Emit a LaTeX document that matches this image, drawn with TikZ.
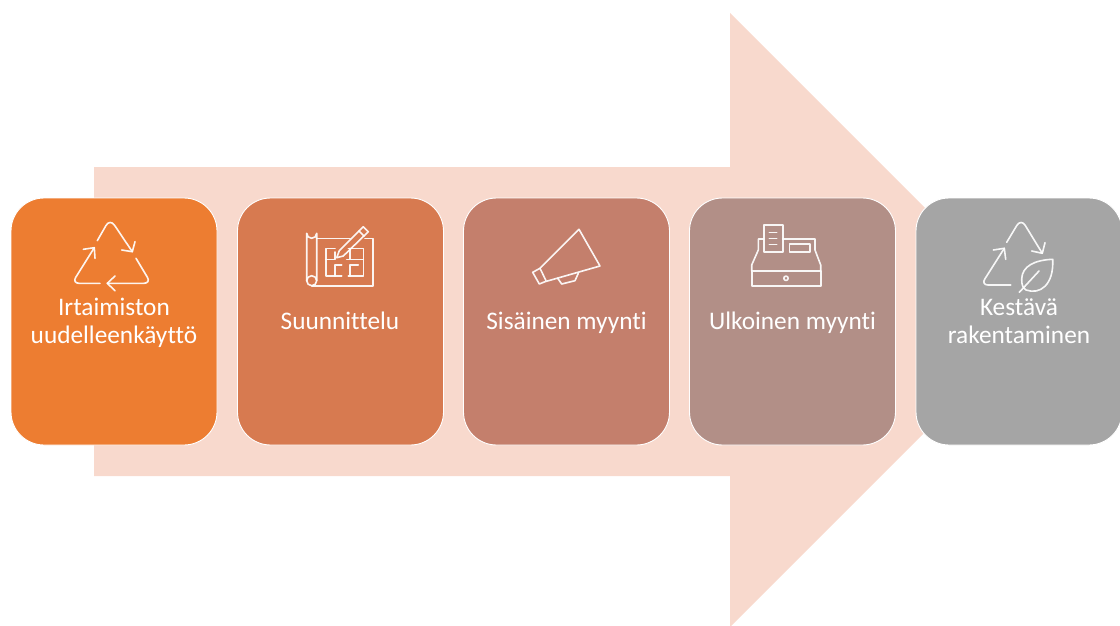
\documentclass[tikz,border=0pt]{standalone}
\usepackage{fontspec}
\setmainfont{Carlito}[Ligatures=NoCommon]
\definecolor{arrowfill}{HTML}{F8D9CD}
\definecolor{boxa}{HTML}{ED7D31}
\definecolor{boxb}{HTML}{D77A50}
\definecolor{boxc}{HTML}{C47F6C}
\definecolor{boxd}{HTML}{B28F87}
\definecolor{boxe}{HTML}{A5A5A5}
\tikzset{
  stage/.style={draw=white,line width=0.9pt,rounded corners=33pt,minimum width=206pt,minimum height=247pt,inner sep=0pt},
  label/.style={text=white,font=\fontsize{25.3}{28}\selectfont,align=center,inner sep=0pt},
  icon/.style={draw=white,line width=1.6pt,line cap=round,line join=round,opacity=0.92},
}
\begin{document}
\begin{tikzpicture}[x=1pt,y=-1pt]
\useasboundingbox (0,0) rectangle (1120,626);
\fill[arrowfill] (94,167) -- (730,167) -- (730,13) -- (1037,320) -- (730,627) -- (730,476) -- (94,476) -- cycle;
\node[stage,fill=boxa] (b1) at (114,321.5) {};
\node[stage,fill=boxb] (b2) at (340.5,321.5) {};
\node[stage,fill=boxc] (b3) at (566.5,321.5) {};
\node[stage,fill=boxd] (b4) at (792.5,321.5) {};
\begin{scope}
\clip (0,0) rectangle (1120,626);
\node[stage,fill=boxe] (b5) at (1019,321.5) {};
\end{scope}
\node[label] (t1) at (114,324) {\strut Irtaimiston\\\strut uudelleenkäyttö};
\node[label] (t2) at (340,324) {\strut Suunnittelu};
\node[label] (t3) at (566.5,324) {\strut Sisäinen myynti};
\node[label] (t4) at (792.5,324) {\strut Ulkoinen myynti};
\node[label] (t5) at (1019,324) {\strut Kestävä\\\strut rakentaminen};
% recycle icon 1
\draw[icon,rounded corners=8pt] (97.3,240.7) -- (110,218.5) -- (132.3,251.7);
\draw[icon] (135,241.7) -- (132.3,251.7) -- (121.7,250);
\draw[icon,rounded corners=7pt] (100,283.3) -- (72,283.3) -- (94.3,247.7);
\draw[icon] (83.3,249.3) -- (94.3,247.7) -- (95,258.3);
\draw[icon,rounded corners=7pt] (136,258.3) -- (151,283.3) -- (107.3,283.3);
\draw[icon] (115,276) -- (107.3,283.3) -- (115,290.7);
% blueprint icon
\draw[icon] (306.7,280.7) -- (306.7,233.3) arc[start angle=180,end angle=0,radius=5] -- (316.7,280.7);
\draw[icon] (311.7,280.7) circle[radius=5];
\draw[icon] (316.7,238.3) -- (350,238.3) (365,238.3) -- (372.7,238.3) -- (372.7,285.7) -- (311.7,285.7);
\draw[icon] (336.7,257.7) -- (339.3,250.7) -- (363.3,226.7) -- (368.3,231.7) -- (343.3,256) -- cycle;
\draw[icon] (359,231) -- (364,236);
\draw[icon] (335,248.3) -- (325.7,248.3) -- (325.7,276) -- (341.7,276);
\draw[icon] (325.7,259.3) -- (335,259.3) -- (335,252);
\draw[icon] (348.3,248.3) -- (363.3,248.3) -- (363.3,276) -- (348.3,276);
\draw[icon] (350,248.3) -- (350,259.3) (346.7,259.3) -- (363.3,259.3);
\draw[icon] (335,276) -- (335,265) -- (341.7,265);
\draw[icon] (350,276) -- (350,265) -- (358.3,265);
% megaphone icon
\draw[icon] (532.7,272.3) -- (539.3,284) -- (545,281.7) -- (600,266) -- (579,229.3) -- (540,268.3) -- cycle;
\draw[icon] (540,268.3) -- (546,280.7);
\draw[icon] (557.7,278.3) -- (561.7,284) -- (575,280.7) -- (578.3,273.3);
% cash register icon
\draw[icon] (751.7,271) rectangle (820.7,286);
\draw[icon] (786,278.3) circle[radius=2.2];
\draw[icon] (751.7,271) -- (751.7,265) -- (758.3,250) -- (758.3,239) -- (764,239);
\draw[icon] (820.7,271) -- (820.7,265) -- (815,250) -- (815,239) -- (782.7,239);
\draw[icon] (764,225) rectangle (782.7,251.7);
\draw[icon] (769.3,232.3) -- (776.7,232.3) (769.3,238.3) -- (776.7,238.3) (769.3,244.3) -- (776.7,244.3);
\draw[icon] (789.3,244) rectangle (810,251.7);
% recycle + leaf icon
\draw[icon,rounded corners=8pt] (1006.7,242.3) -- (1021,218.5) -- (1042.3,253.3);
\draw[icon] (1045,242.7) -- (1042.3,253.3) -- (1031.7,251);
\draw[icon,rounded corners=7pt] (1010.7,285) -- (981,285) -- (1004.3,248.3);
\draw[icon] (993.3,250) -- (1004.3,248.3) -- (1005.7,259.3);
\draw[icon] (1052.7,259.3) .. controls (1035,260) and (1022,266) .. (1021.7,279) .. controls (1021.5,285) and (1023,288) .. (1026,290) .. controls (1040,295) and (1054,285) .. cycle;
\draw[icon] (1019.3,292.3) -- (1039,271);
\end{tikzpicture}
\end{document}
